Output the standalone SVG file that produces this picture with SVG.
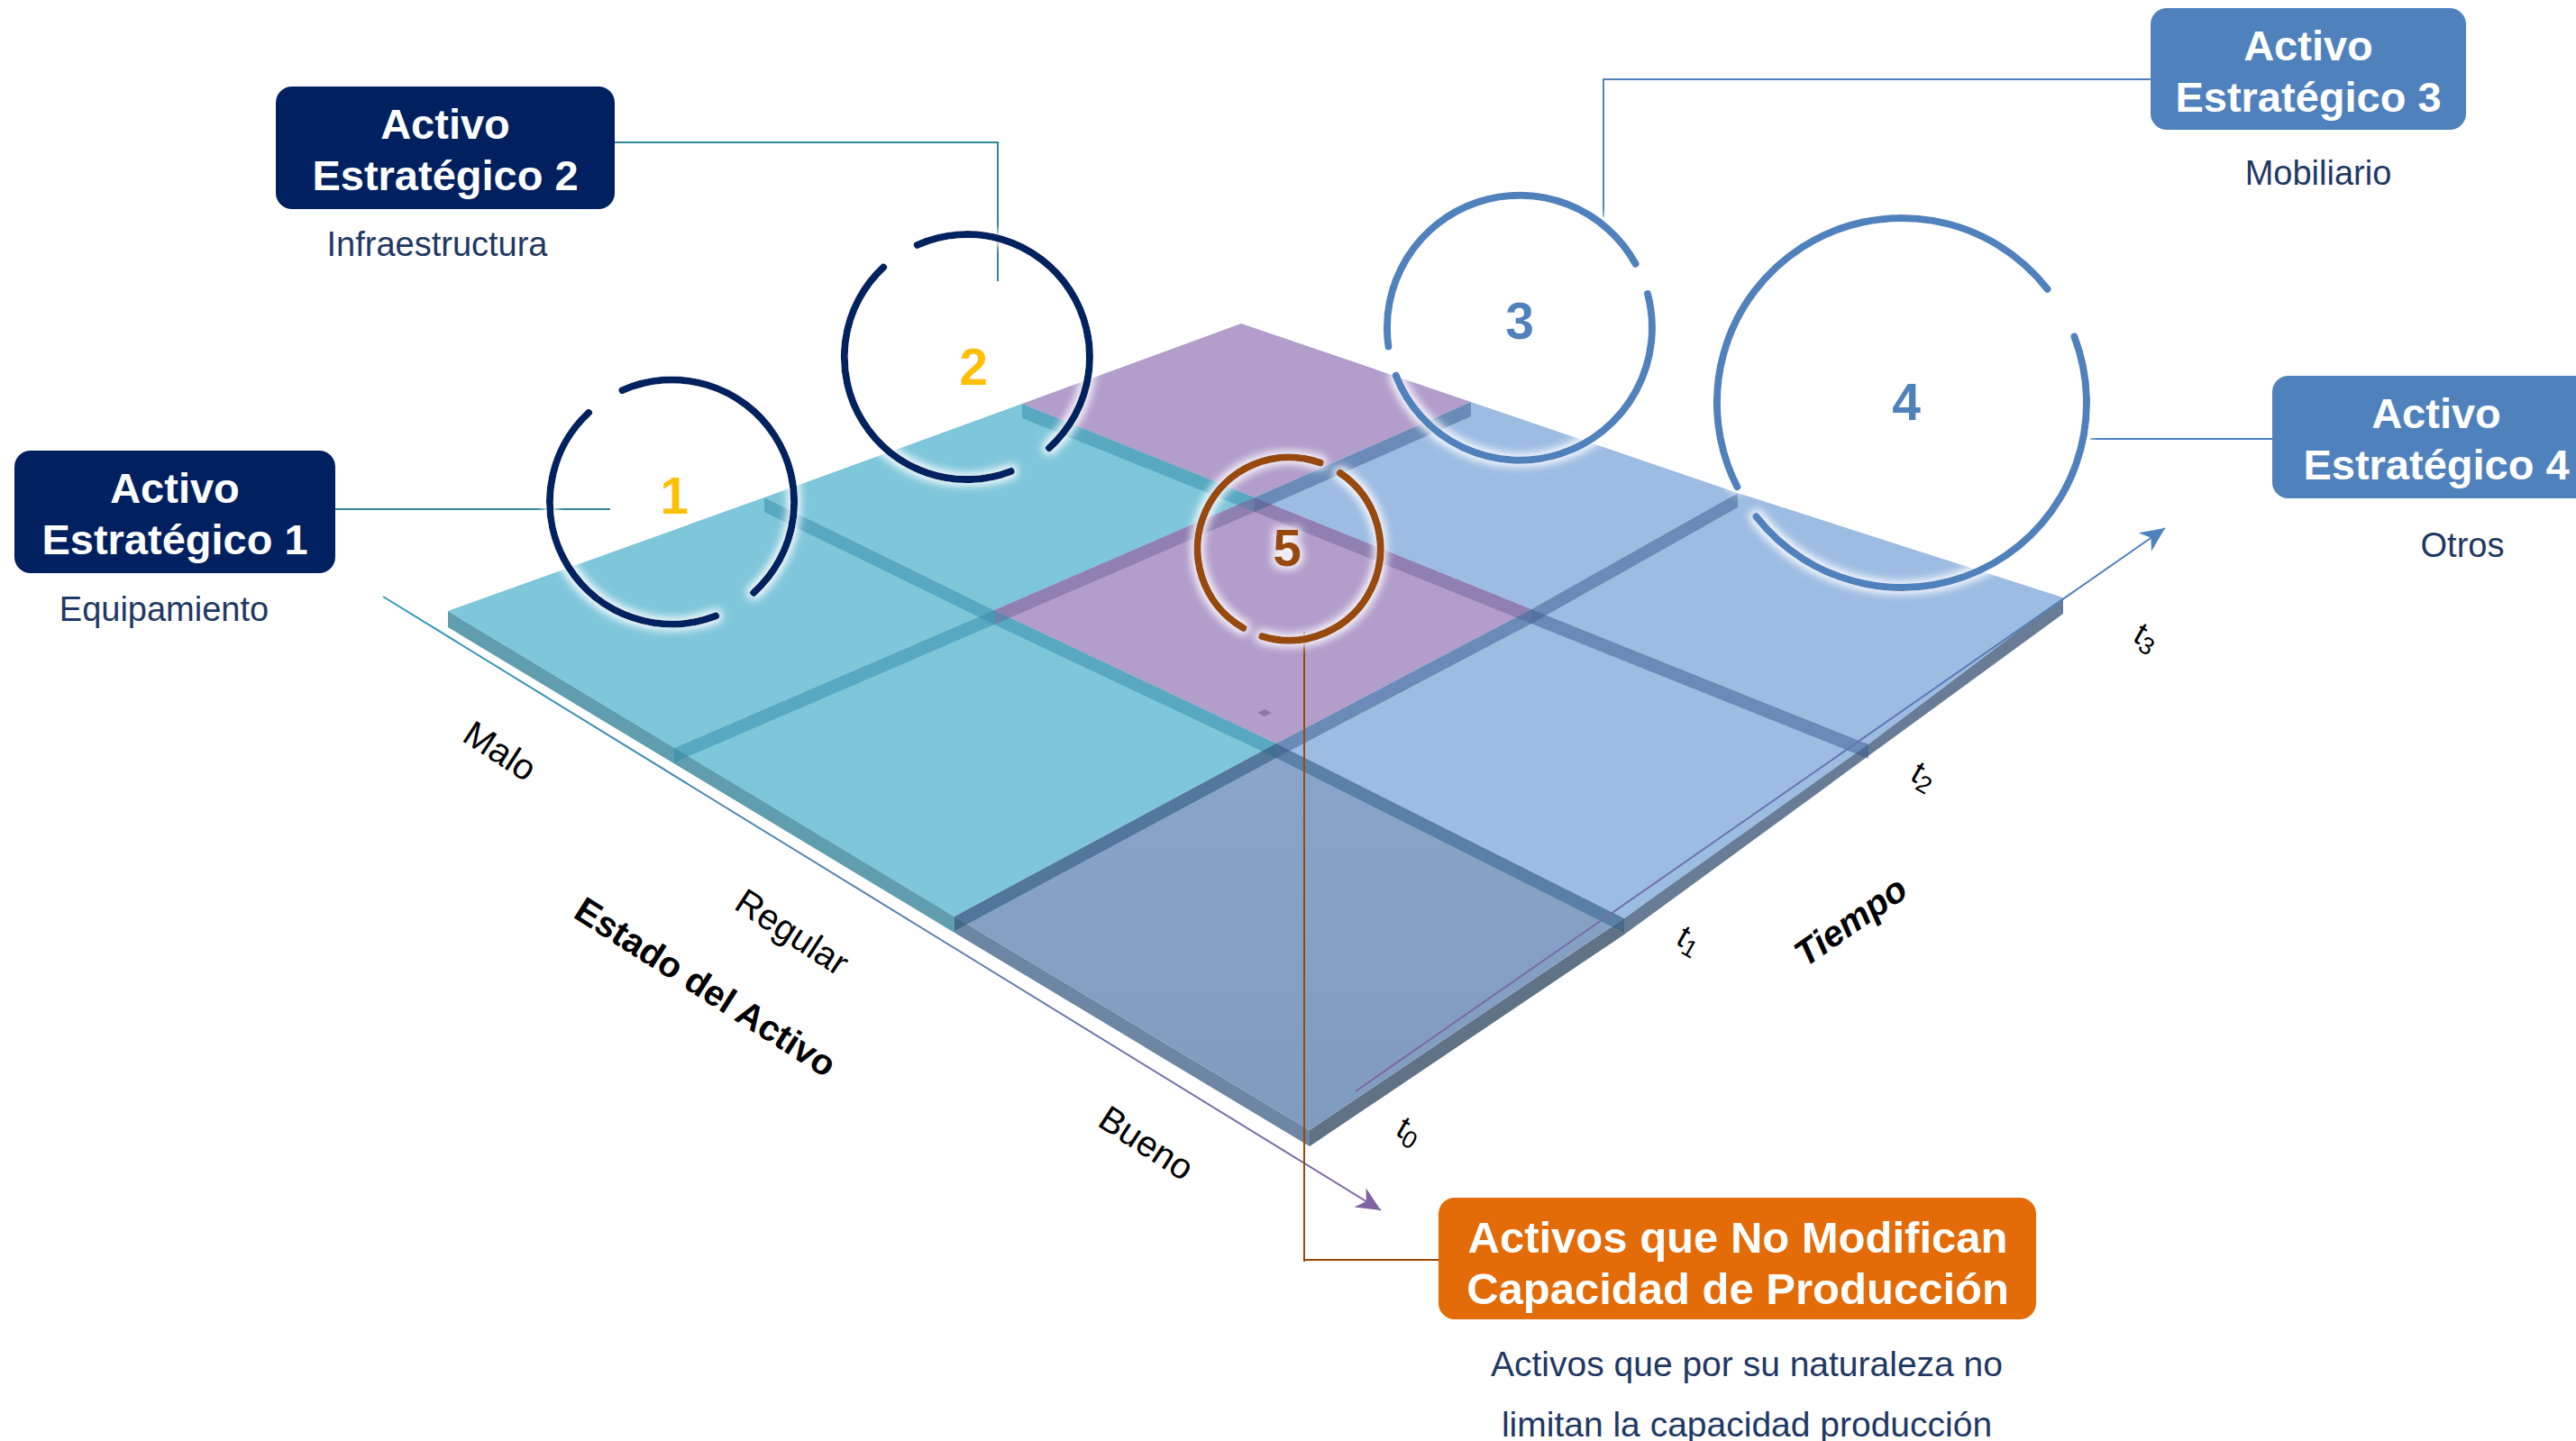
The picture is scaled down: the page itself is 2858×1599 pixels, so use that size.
<svg xmlns="http://www.w3.org/2000/svg" width="2858" height="1599" viewBox="0 0 2858 1599">
<defs>
<style>
.bt{font-family:"Liberation Sans",Arial,sans-serif;font-weight:bold;font-size:47px;fill:#fff;text-anchor:middle}
.ot{font-family:"Liberation Sans",Arial,sans-serif;font-weight:bold;font-size:49px;fill:#fff;text-anchor:middle}
.sub{font-family:"Liberation Sans",Arial,sans-serif;font-size:38px;fill:#1F3864;text-anchor:middle}
.desc{font-family:"Liberation Sans",Arial,sans-serif;font-size:39px;fill:#1F3864;text-anchor:middle}
.num{font-family:"Liberation Sans",Arial,sans-serif;font-weight:bold;font-size:57px;text-anchor:middle}
.arc{fill:none;stroke-width:8;stroke-linecap:round}
.lbl{font-family:"Liberation Sans",Arial,sans-serif;font-size:40px;fill:#000;text-anchor:middle}
.ttl{font-family:"Liberation Sans",Arial,sans-serif;font-size:40px;font-weight:bold;fill:#000;text-anchor:middle}
.tl{font-family:"Liberation Sans",Arial,sans-serif;font-size:36px;fill:#000}
.conn{fill:none;stroke-width:2}
.cy{fill:#7EC6DA}.pu{fill:#B29DCB}.bl{fill:#9DBCE2}
.bcy{fill:#328AAA;fill-opacity:.5}.bpu{fill:#6C6397;fill-opacity:.5}.bbl{fill:#375A8E;fill-opacity:.5}.bdk{fill:#1E4C6E;fill-opacity:.5}
</style>
<filter id="glow" x="-20%" y="-20%" width="140%" height="140%">
<feMorphology in="SourceAlpha" operator="dilate" radius="3" result="d"/>
<feGaussianBlur in="d" stdDeviation="5" result="b"/>
<feFlood flood-color="#ffffff" flood-opacity="0.95"/>
<feComposite in2="b" operator="in" result="g"/>
<feMerge><feMergeNode in="g"/><feMergeNode in="SourceGraphic"/></feMerge>
</filter>
<linearGradient id="gEstado" gradientUnits="userSpaceOnUse" x1="425" y1="662" x2="1532" y2="1343">
<stop offset="0" stop-color="#2E9AB8"/><stop offset="1" stop-color="#8064A2"/>
</linearGradient>
<linearGradient id="gTiempo" gradientUnits="userSpaceOnUse" x1="1504" y1="1211" x2="2402" y2="586">
<stop offset="0" stop-color="#8064A2"/><stop offset="1" stop-color="#4F81BD"/>
</linearGradient>
<linearGradient id="gDark" x1="0" y1="0" x2="0" y2="1">
<stop offset="0" stop-color="#89A5C9"/><stop offset="1" stop-color="#7F9CBE"/>
</linearGradient>
<marker id="ahP" markerUnits="userSpaceOnUse" markerWidth="32" markerHeight="30" viewBox="-30 -15 32 30" refX="0" refY="0" orient="auto">
<path d="M0,0 L-27,-12.5 L-19,0 L-27,12.5 Z" fill="#8064A2"/>
</marker>
<marker id="ahB" markerUnits="userSpaceOnUse" markerWidth="32" markerHeight="30" viewBox="-30 -15 32 30" refX="0" refY="0" orient="auto">
<path d="M0,0 L-27,-12.5 L-19,0 L-27,12.5 Z" fill="#4F81BD"/>
</marker>
</defs>
<rect width="2858" height="1599" fill="#fff"/>

<g id="slab">
<polygon points="497,678 1059,1017 1059,1035 497,696" fill="#5F9DAF"/>
<polygon points="1059,1017 1453,1254 1453,1272 1059,1035" fill="#6D86A3"/>
<polygon points="1453,1254 1802,1019 1802,1037 1453,1272" fill="#5F7286"/>
<polygon points="1802,1019 2289,663 2289,681 1802,1037" fill="#687D95"/>
<polygon class="cy" points="497,678 848,552 1103,677 748,830"/>
<polygon class="cy" points="848,552 1134,448 1392,552 1103,677"/>
<polygon class="pu" points="1134,448 1377,359 1632,446 1392,552"/>
<polygon class="cy" points="748,830 1103,677 1416,825 1059,1017"/>
<polygon class="pu" points="1103,677 1392,552 1699,676 1416,825"/>
<polygon class="bl" points="1392,552 1632,446 1928,547 1699,676"/>
<polygon fill="url(#gDark)" points="1059,1017 1416,825 1802,1019 1453,1254"/>
<polygon class="bl" points="1416,825 1699,676 2073,826 1802,1019"/>
<polygon class="bl" points="1699,676 1928,547 2289,663 2073,826"/>
<polygon class="bcy" points="848,552 1103,677 1103,693 848,568"/>
<polygon class="bcy" points="1103,677 1416,825 1416,841 1103,693"/>
<polygon fill="#305E8A" fill-opacity=".5" points="1416,825 1802,1019 1802,1035 1416,841"/>
<polygon class="bcy" points="1134,448 1392,552 1392,568 1134,464"/>
<polygon class="bpu" points="1392,552 1699,676 1699,692 1392,568"/>
<polygon class="bbl" points="1699,676 2073,826 2073,842 1699,692"/>
<polygon class="bcy" points="748,830 1103,677 1103,693 748,846"/>
<polygon class="bpu" points="1103,677 1392,552 1392,568 1103,693"/>
<polygon class="bbl" points="1392,552 1632,446 1632,462 1392,568"/>
<polygon class="bdk" points="1059,1017 1416,825 1416,841 1059,1033"/>
<polygon class="bbl" points="1416,825 1699,676 1699,692 1416,841"/>
<polygon class="bbl" points="1699,676 1928,547 1928,563 1699,692"/>
<polygon points="1395,791 1403,787 1411,791 1403,795" fill="#8E77AB"/>
</g>

<g id="axis-labels">
<text class="lbl" transform="translate(555,833) rotate(33)" y="14">Malo</text>
<text class="lbl" transform="translate(879,1034) rotate(33)" y="14">Regular</text>
<text class="lbl" transform="translate(1272,1268) rotate(33)" y="14">Bueno</text>
<text class="ttl" transform="translate(783,1095) rotate(32.5)" y="14">Estado del Activo</text>
<text class="ttl" font-style="italic" transform="translate(2053,1022) rotate(-35)" y="14">Tiempo</text>
<text class="tl" transform="translate(1562,1258) rotate(30)" x="-13" y="8">t<tspan font-size="27" dy="6">0</tspan></text>
<text class="tl" transform="translate(1873,1046) rotate(30)" x="-13" y="8">t<tspan font-size="27" dy="6">1</tspan></text>
<text class="tl" transform="translate(2133,864) rotate(30)" x="-13" y="8">t<tspan font-size="27" dy="6">2</tspan></text>
<text class="tl" transform="translate(2380,710) rotate(30)" x="-13" y="8">t<tspan font-size="27" dy="6">3</tspan></text>
</g>

<g id="connectors">
<path class="conn" stroke="url(#gEstado)" stroke-width="3" d="M425,662 L1532,1343" marker-end="url(#ahP)"/>
<path class="conn" stroke="url(#gTiempo)" stroke-width="3" d="M1504,1211 L2402,586" marker-end="url(#ahB)"/>
<path class="conn" stroke="#31849B" d="M372,565 H677"/>
<path class="conn" stroke="#31849B" d="M682,158 H1107 V312"/>
<path class="conn" stroke="#4F81BD" d="M2386,88 H1779 V241"/>
<path class="conn" stroke="#4F81BD" d="M2319,487 H2521"/>
<path class="conn" stroke="#984807" d="M1447,701 V1400 M1447,1398 H1596"/>
</g>

<g id="circle1" filter="url(#glow)">
<path class="arc" stroke="#002060" d="M690.4,433.2 A135.5,135.5 0 0 1 836.2,657.7 M794.1,683.5 A135.5,135.5 0 0 1 653.1,457.9"/>
<text class="num" x="748" y="570" fill="#FFC000">1</text>
</g>
<g id="circle2" filter="url(#glow)">
<path class="arc" stroke="#002060" d="M1017.7,271.8 A136,136 0 0 1 1164,497.1 M1121.7,523 A136,136 0 0 1 980.2,296.5"/>
<text class="num" x="1080" y="427" fill="#FFC000">2</text>
</g>
<g id="circle3" filter="url(#glow)">
<path class="arc" stroke="#4F81BD" d="M1828,326 A147,147 0 0 1 1548.8,416.7 M1540.4,384.5 A147,147 0 0 1 1814.6,292.7"/>
<text class="num" x="1686" y="376" fill="#4F81BD">3</text>
</g>
<g id="circle4" filter="url(#glow)">
<path class="arc" stroke="#4F81BD" d="M2301.4,373.5 A205,205 0 0 1 1948.5,573.2 M1927.3,540.1 A205,205 0 0 1 2271.5,320.8"/>
<text class="num" x="2115" y="466" fill="#4F81BD">4</text>
</g>
<g id="circle5" filter="url(#glow)">
<path class="arc" stroke="#984807" d="M1486.8,524.9 A101.5,101.5 0 0 1 1400.3,706.1 M1379.3,696.9 A101.5,101.5 0 0 1 1464.7,513.6"/>
<text class="num" x="1428" y="628" fill="#984807">5</text>
</g>

<g id="ae1">
<rect x="16" y="500" width="356" height="136" rx="18" fill="#002060"/>
<text class="bt" x="194" y="558">Activo</text>
<text class="bt" x="194" y="615">Estratégico 1</text>
<text class="sub" x="182" y="689">Equipamiento</text>
</g>
<g id="ae2">
<rect x="306" y="96" width="376" height="136" rx="18" fill="#002060"/>
<text class="bt" x="494" y="154">Activo</text>
<text class="bt" x="494" y="211">Estratégico 2</text>
<text class="sub" x="485" y="284">Infraestructura</text>
</g>
<g id="ae3">
<rect x="2386" y="9" width="350" height="135" rx="18" fill="#4F81BD"/>
<text class="bt" x="2561" y="67">Activo</text>
<text class="bt" x="2561" y="124">Estratégico 3</text>
<text class="sub" x="2572" y="205">Mobiliario</text>
</g>
<g id="ae4">
<rect x="2521" y="417" width="380" height="136" rx="18" fill="#4F81BD"/>
<text class="bt" x="2703" y="475">Activo</text>
<text class="bt" x="2703" y="532">Estratégico 4</text>
<text class="sub" x="2732" y="618">Otros</text>
</g>
<g id="ae5">
<rect x="1596" y="1329" width="663" height="135" rx="18" fill="#E36C09"/>
<text class="ot" x="1928" y="1390">Activos que No Modifican</text>
<text class="ot" x="1928" y="1447">Capacidad de Producción</text>
<text class="desc" x="1938" y="1527">Activos que por su naturaleza no</text>
<text class="desc" x="1938" y="1594">limitan la capacidad producción</text>
</g>
</svg>
